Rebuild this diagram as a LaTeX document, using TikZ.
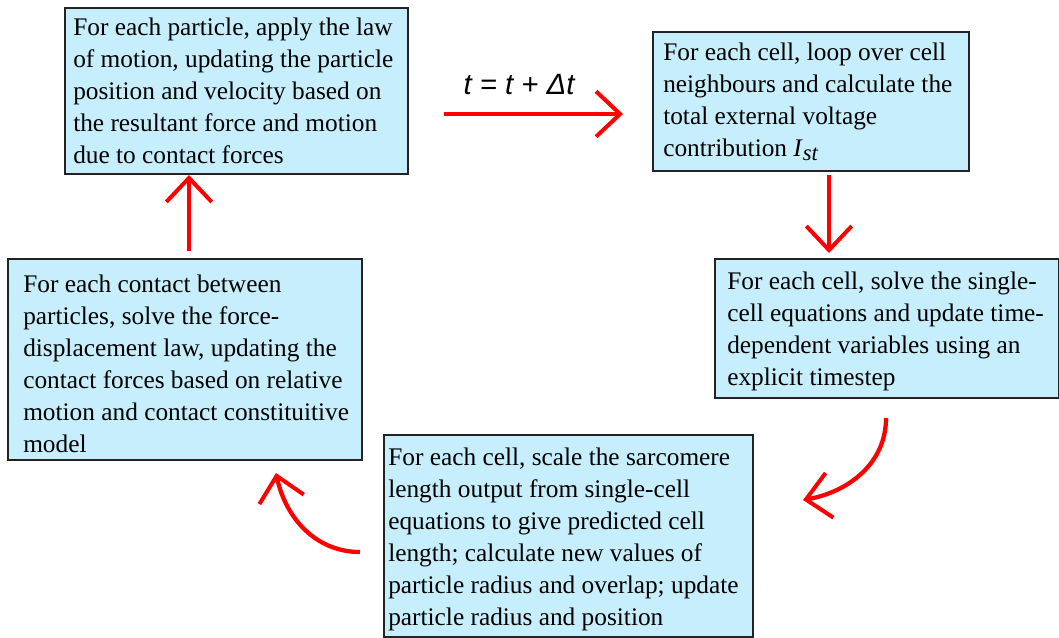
\documentclass[tikz,border=0pt]{standalone}
\usepackage{fontspec}
\setmainfont{Liberation Serif}
\newfontfamily\eqfont{Liberation Sans}
\usetikzlibrary{arrows.meta}
\definecolor{boxblue}{RGB}{198,238,252}
\definecolor{boxline}{RGB}{35,35,35}
\definecolor{arrred}{RGB}{255,0,0}
\tikzset{
  stepbox/.style={draw=boxline, line width=1.5pt, fill=boxblue, anchor=north west, inner sep=0pt},
  boxtext/.style={anchor=north west, inner sep=0pt, align=left, font=\fontsize{19}{24}\selectfont},
  redarrow/.style={draw=arrred, line width=3.2pt, -{Straight Barb[length=18pt,width=34pt,line width=3pt]}},
  eqlabel/.style={font=\eqfont\itshape\fontsize{22}{22}\selectfont, inner sep=0pt, anchor=base}
}
\begin{document}
\begin{tikzpicture}[x=0.75pt,y=-0.75pt]
\useasboundingbox (0,0) rectangle (1059,637);
% boxes
\node[stepbox, minimum width=257.25pt, minimum height=124.5pt] (b1) at (64,7) {};
\node[stepbox, minimum width=237pt, minimum height=104.25pt] (b2) at (652,31) {};
\node[stepbox, minimum width=258pt, minimum height=104.25pt] (b3) at (714,258) {};
\node[stepbox, minimum width=265.5pt, minimum height=150.75pt] (b4) at (7,258) {};
\node[stepbox, minimum width=276.75pt, minimum height=151.5pt] (b5) at (383,434) {};
% texts
\node[boxtext] (t1) at (73,18) {For each particle, apply the law\\of motion, updating the particle\\position and velocity based on\\the resultant force and motion\\due to contact forces};
\node[boxtext] (t2) at (663,43) {For each cell, loop over cell\\neighbours and calculate the\\total external voltage\\contribution \textit{I}\raisebox{-2.5pt}{\fontsize{17}{17}\selectfont\textit{st}}};
\node[boxtext] (t3) at (727,272) {For each cell, solve the single-\\cell equations and update time-\\dependent variables using an\\explicit timestep};
\node[boxtext] (t4) at (23,275) {For each contact between\\particles, solve the force-\\displacement law, updating the\\contact forces based on relative\\motion and contact constituitive\\model};
\node[boxtext] (t5) at (388,448) {For each cell, scale the sarcomere\\length output from single-cell\\equations to give predicted cell\\length; calculate new values of\\particle radius and overlap; update\\particle radius and position};
% connector end points
\coordinate (a1s) at (444,114);
\coordinate (a1e) at (623,114);
\coordinate (a2s) at (829,175);
\coordinate (a2e) at (829,253);
\coordinate (a3s) at (886,418);
\coordinate (a3e) at (803,500);
\coordinate (a4s) at (360,552);
\coordinate (a4e) at (276,473);
\coordinate (a5s) at (189,251);
\coordinate (a5e) at (189,175);
% arrows
\draw[redarrow] (a1s) -- (a1e);
\node[eqlabel] (eq) at (519,94) {t = t + Δt};
\draw[redarrow] (a2s) -- (a2e);
\draw[redarrow] (a3s) to[out=-90,in=10] (a3e);
\draw[redarrow] (a4s) to[out=180,in=-78] (a4e);
\draw[redarrow] (a5s) -- (a5e);
\end{tikzpicture}
\end{document}
